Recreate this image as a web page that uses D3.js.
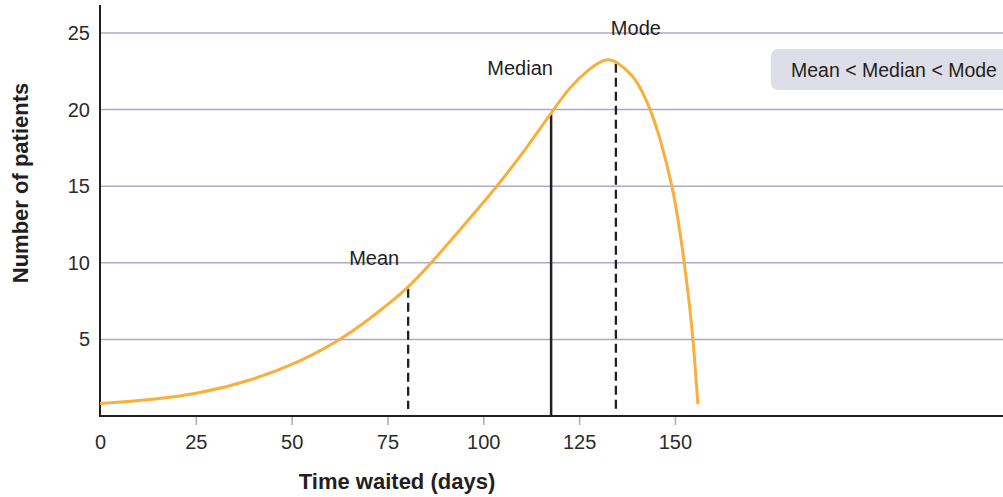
<!DOCTYPE html>
<html><head><meta charset="utf-8">
<script src="https://cdn.jsdelivr.net/npm/d3@7"></script>
<style>
body{margin:0;background:#fff;}
svg{display:block;font-family:"Liberation Sans",Arial,sans-serif;}
</style></head>
<body><svg id="c" width="1003" height="497"></svg>
<script>
// Data
const days =     [0, 13, 26.1, 39.1, 52.2, 63.9, 73.8, 80.4, 85.6, 93.9, 103.1, 110.9, 117.7, 122.6, 127.8, 132.3, 134.8, 139.1, 141.7, 143.5, 146.1, 149.5, 151.3, 152.6, 153.9, 154.7, 156];
const patients = [0.82, 1.04, 1.47, 2.28, 3.52, 5.12, 7.0, 8.39, 9.75, 12.14, 14.82, 17.36, 19.78, 21.5, 22.72, 23.4, 23.13, 22.26, 21.08, 20.08, 18.2, 14.86, 12.08, 9.75, 7.05, 5.16, 0.78];
const markerNames = ["Mean", "Median", "Mode"];
const markerDays = [80.4, 117.7, 134.6];
const markerTops = [8.3, 19.7, 23.0];
const xTicks = [0, 25, 50, 75, 100, 125, 150];
const yTicks = [5, 10, 15, 20, 25];
const noteText = "Mean < Median < Mode";

const svg = d3.select("#c");
const x = d3.scaleLinear().domain([0, 235.6]).range([100, 1003]);
const y = d3.scaleLinear().domain([0, 25]).range([416, 33]);
const ink = "#231f20";
const grid = "#aaa9c8";
const txt = "#2b2b2b";

// gridlines
svg.append("g").selectAll("line").data(yTicks).join("line")
  .attr("x1", x(0)).attr("x2", 1003)
  .attr("y1", d => y(d)).attr("y2", d => y(d))
  .attr("stroke", grid).attr("stroke-width", 1.5);

// y tick labels
svg.append("g").selectAll("text").data(yTicks).join("text")
  .attr("x", 90).attr("y", d => y(d)).attr("dy", "0.35em")
  .attr("text-anchor", "end").attr("font-size", 20).attr("fill", txt)
  .text(d => d);

// x axis ticks
const xAxis = d3.axisBottom(x).tickValues(xTicks).tickSize(9).tickPadding(10).tickFormat(d => d);
const gx = svg.append("g").attr("transform", `translate(0,${y(0)})`).call(xAxis);
gx.select(".domain").remove();
gx.selectAll(".tick line").attr("stroke", grid).attr("stroke-width", 1.5).attr("opacity", d => d === 0 ? 0 : 1);
gx.selectAll(".tick text").attr("font-size", 20).attr("fill", txt)
  .attr("font-family", "Liberation Sans, Arial, sans-serif");

// axis lines
svg.append("line").attr("x1", x(0)).attr("x2", 1003).attr("y1", y(0)).attr("y2", y(0))
  .attr("stroke", ink).attr("stroke-width", 2);
svg.append("line").attr("x1", x(0)).attr("x2", x(0)).attr("y1", 5).attr("y2", y(0) + 1)
  .attr("stroke", ink).attr("stroke-width", 2);

// marker lines
const markers = markerNames.map((n, i) => ({ name: n, day: markerDays[i], top: markerTops[i] }));
svg.append("g").selectAll("line").data(markers).join("line")
  .attr("x1", d => x(d.day)).attr("x2", d => x(d.day))
  .attr("y1", d => y(d.top)).attr("y2", d => d.name === "Median" ? y(0) : y(0) - 7)
  .attr("stroke", ink).attr("stroke-width", d => d.name === "Median" ? 2.5 : 2.3)
  .attr("stroke-dasharray", d => d.name === "Median" ? null : "9,5");

// curve
const pts = days.map((d, i) => [d, patients[i]]);
svg.append("path").datum(pts)
  .attr("d", d3.line().x(d => x(d[0])).y(d => y(d[1])).curve(d3.curveBasis))
  .attr("fill", "none").attr("stroke", "#f8af3c").attr("stroke-width", 3);

// marker labels
const labelOffsets = { Mean: [-34, 258], Median: [-31, 68], Mode: [20, 28] };
svg.append("g").selectAll("text").data(markers).join("text")
  .attr("x", d => x(d.day) + labelOffsets[d.name][0])
  .attr("y", d => labelOffsets[d.name][1]).attr("dy", "0.35em")
  .attr("text-anchor", "middle").attr("font-size", 20).attr("fill", ink)
  .text(d => d.name);

// note box
svg.append("rect").attr("x", 771).attr("y", 49).attr("width", 250).attr("height", 41)
  .attr("rx", 7).attr("fill", "#dedee8");
svg.append("text").attr("x", 791).attr("y", 70).attr("dy", "0.35em")
  .attr("font-size", 19.5).attr("fill", ink).text(noteText);

// axis titles
svg.append("text").attr("x", 397).attr("y", 481).attr("dy", "0.35em")
  .attr("text-anchor", "middle").attr("font-size", 22).attr("font-weight", "bold").attr("fill", ink)
  .text("Time waited (days)");
svg.append("text").attr("transform", "translate(20,183) rotate(-90)").attr("dy", "0.35em")
  .attr("text-anchor", "middle").attr("font-size", 22).attr("font-weight", "bold").attr("fill", ink)
  .text("Number of patients");
</script></body></html>
